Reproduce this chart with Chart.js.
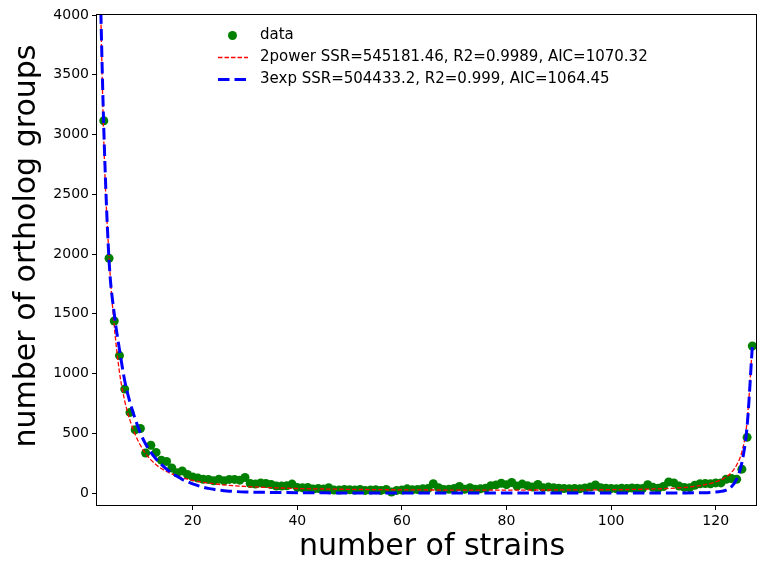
<!DOCTYPE html>
<html>
<head>
    <title>Ortholog groups per number of strains</title>
    <script src="https://cdn.jsdelivr.net/npm/chart.js"></script>
    <style>
        body {
            margin: 0;
            background-color: white;
        }
        canvas {
            display: block;
        }
    </style>
</head>
<body>
    <canvas id="orthologChart" width="757" height="564"></canvas>

    <script>
        // observed counts, strains 3..127 (the value for 2 strains is off the top of the axis)
        const firstStrain = 3;
        const orthologGroups = [
            3115, 1965, 1440, 1150, 870, 675, 530, 540, 335, 400,
            340, 275, 265, 210, 170, 185, 155, 135, 125, 115,
            114, 102, 116, 102, 114, 114, 108, 130, 80, 75,
            85, 80, 72, 58, 58, 61, 75, 47, 44, 47,
            33, 38, 33, 44, 25, 25, 30, 28, 25, 30,
            22, 25, 28, 22, 30, 8, 22, 25, 35, 28,
            30, 35, 38, 78, 45, 30, 32, 38, 55, 32,
            45, 32, 35, 40, 62, 68, 82, 70, 88, 58,
            75, 62, 50, 72, 45, 50, 45, 40, 38, 35,
            38, 35, 42, 50, 68, 45, 40, 38, 35, 40,
            38, 42, 40, 38, 70, 48, 40, 55, 92, 85,
            58, 47, 45, 65, 78, 80, 78, 85, 85, 115,
            122, 115, 200, 466, 1230
        ];
        const strains = orthologGroups.map((_, i) => firstStrain + i);

        // 2power fit
        const powerX = [2, 3, 4, 5, 6, 7, 8, 9, 10, 11, 12, 13, 14, 15, 16, 17, 18, 19, 20, 22, 24, 26, 28, 30, 35, 40, 50, 60, 70, 80, 90, 100, 105, 110, 113, 115, 117, 119, 120, 121, 122, 123, 124, 125, 126, 127];
        const powerY = [4900, 2950, 1980, 1400, 1010, 770, 610, 490, 400, 330, 278, 237, 205, 180, 160, 143, 128, 116, 106, 90, 78, 68, 61, 55, 45, 38, 31, 27, 25, 25, 26, 28, 31, 37, 44, 51, 62, 80, 93, 110, 135, 172, 235, 345, 600, 1230];

        // 3exp fit
        const expX = [2, 3, 4, 5, 6, 7, 8, 9, 10, 11, 12, 13, 14, 15, 16, 17, 18, 19, 20, 21, 22, 23, 24, 25, 26, 27, 28, 30, 35, 40, 50, 110, 118, 119, 120, 121, 122, 123, 124, 125, 126, 127];
        const expY = [4850, 3050, 1950, 1500, 1200, 940, 760, 620, 500, 410, 340, 285, 240, 200, 168, 140, 115, 95, 77, 62, 49, 39, 31, 25, 20, 16, 13, 9, 5, 3, 1, 1, 3, 5, 8, 14, 25, 53, 116, 255, 560, 1230];

        const xTicks = [20, 40, 60, 80, 100, 120];
        const yTicks = [0, 500, 1000, 1500, 2000, 2500, 3000, 3500, 4000];

        const xTitle = 'number of strains';
        const yTitle = 'number of ortholog groups';
        const legendLabels = [
            'data',
            '2power SSR=545181.46, R2=0.9989, AIC=1070.32',
            '3exp SSR=504433.2, R2=0.999, AIC=1064.45'
        ];

        const FONT = 'DejaVu Sans';
        const toPoints = (xs, ys) => xs.map((x, i) => ({ x: x, y: ys[i] }));

        // box around the plot area, like matplotlib spines
        const frame = {
            id: 'frame',
            afterDraw(chart) {
                const a = chart.chartArea;
                const ctx = chart.ctx;
                ctx.save();
                ctx.strokeStyle = '#000';
                ctx.lineWidth = 1;
                ctx.strokeRect(Math.round(a.left) - 0.5, Math.round(a.top) - 0.5,
                    Math.round(a.right - a.left) + 1, Math.round(a.bottom - a.top) + 1);
                ctx.restore();
            }
        };

        // axis titles, placed by hand
        const axisTitles = {
            id: 'axisTitles',
            afterDraw(chart) {
                const ctx = chart.ctx;
                ctx.save();
                ctx.font = '30px "' + FONT + '"';
                ctx.fillStyle = '#000';
                ctx.textAlign = 'center';
                ctx.textBaseline = 'middle';
                ctx.fillText(xTitle, 432, 547);
                ctx.translate(27, 246);
                ctx.rotate(-Math.PI / 2);
                ctx.fillText(yTitle, 0, 0);
                ctx.restore();
            }
        };

        // legend stacked inside the axes, no box
        const plotLegend = {
            id: 'plotLegend',
            afterDraw(chart) {
                const ctx = chart.ctx;
                const rows = [35.5, 57.5, 79.5];
                ctx.save();
                ctx.font = '15px "' + FONT + '"';
                ctx.fillStyle = '#000';
                ctx.textBaseline = 'middle';
                legendLabels.forEach((t, i) => ctx.fillText(t, 260, rows[i]));

                ctx.fillStyle = 'green';
                ctx.beginPath();
                ctx.arc(232.5, rows[0], 4.5, 0, Math.PI * 2);
                ctx.fill();

                ctx.strokeStyle = 'red';
                ctx.lineWidth = 1.3;
                ctx.setLineDash([4.5, 2]);
                ctx.beginPath();
                ctx.moveTo(218, rows[1]);
                ctx.lineTo(248, rows[1]);
                ctx.stroke();

                ctx.strokeStyle = 'blue';
                ctx.lineWidth = 3;
                ctx.setLineDash([11.5, 5]);
                ctx.beginPath();
                ctx.moveTo(218, rows[2]);
                ctx.lineTo(248, rows[2]);
                ctx.stroke();
                ctx.restore();
            }
        };

        const tickFont = { family: FONT, size: 14 };

        new Chart(document.getElementById('orthologChart'), {
            type: 'scatter',
            data: {
                datasets: [
                    {
                        label: legendLabels[0],
                        data: toPoints(strains, orthologGroups),
                        backgroundColor: 'green',
                        borderWidth: 0,
                        pointRadius: 4.5,
                        order: 3
                    },
                    {
                        type: 'line',
                        label: legendLabels[1],
                        data: toPoints(powerX, powerY),
                        borderColor: 'red',
                        borderWidth: 1.3,
                        borderDash: [4.5, 2],
                        cubicInterpolationMode: 'monotone',
                        pointRadius: 0,
                        fill: false,
                        order: 2
                    },
                    {
                        type: 'line',
                        label: legendLabels[2],
                        data: toPoints(expX, expY),
                        borderColor: 'blue',
                        borderWidth: 3,
                        borderDash: [11.5, 5],
                        cubicInterpolationMode: 'monotone',
                        pointRadius: 0,
                        fill: false,
                        order: 1
                    }
                ]
            },
            options: {
                responsive: false,
                animation: false,
                layout: { autoPadding: false, padding: { left: 0, top: 15, right: 1, bottom: 0 } },
                scales: {
                    x: {
                        type: 'linear',
                        min: 1.7,
                        max: 127.7,
                        afterBuildTicks: s => { s.ticks = xTicks.map(v => ({ value: v })); },
                        afterFit: s => { s.height = 59; },
                        ticks: { font: tickFont, color: '#000', padding: 3, maxRotation: 0, autoSkip: false, callback: v => String(v) },
                        grid: { drawOnChartArea: false, tickLength: 5, tickColor: '#000', tickWidth: 1 },
                        border: { display: false },
                        title: { display: false }
                    },
                    y: {
                        type: 'linear',
                        min: -100,
                        max: 4000,
                        afterBuildTicks: s => { s.ticks = yTicks.map(v => ({ value: v })); },
                        afterFit: s => { s.width = 97; },
                        ticks: { font: tickFont, color: '#000', padding: 3, autoSkip: false, callback: v => String(v) },
                        grid: { drawOnChartArea: false, tickLength: 5, tickColor: '#000', tickWidth: 1 },
                        border: { display: false },
                        title: { display: false }
                    }
                },
                plugins: {
                    legend: { display: false },
                    tooltip: { enabled: false }
                }
            },
            plugins: [frame, axisTitles, plotLegend]
        });
    </script>
</body>
</html>
